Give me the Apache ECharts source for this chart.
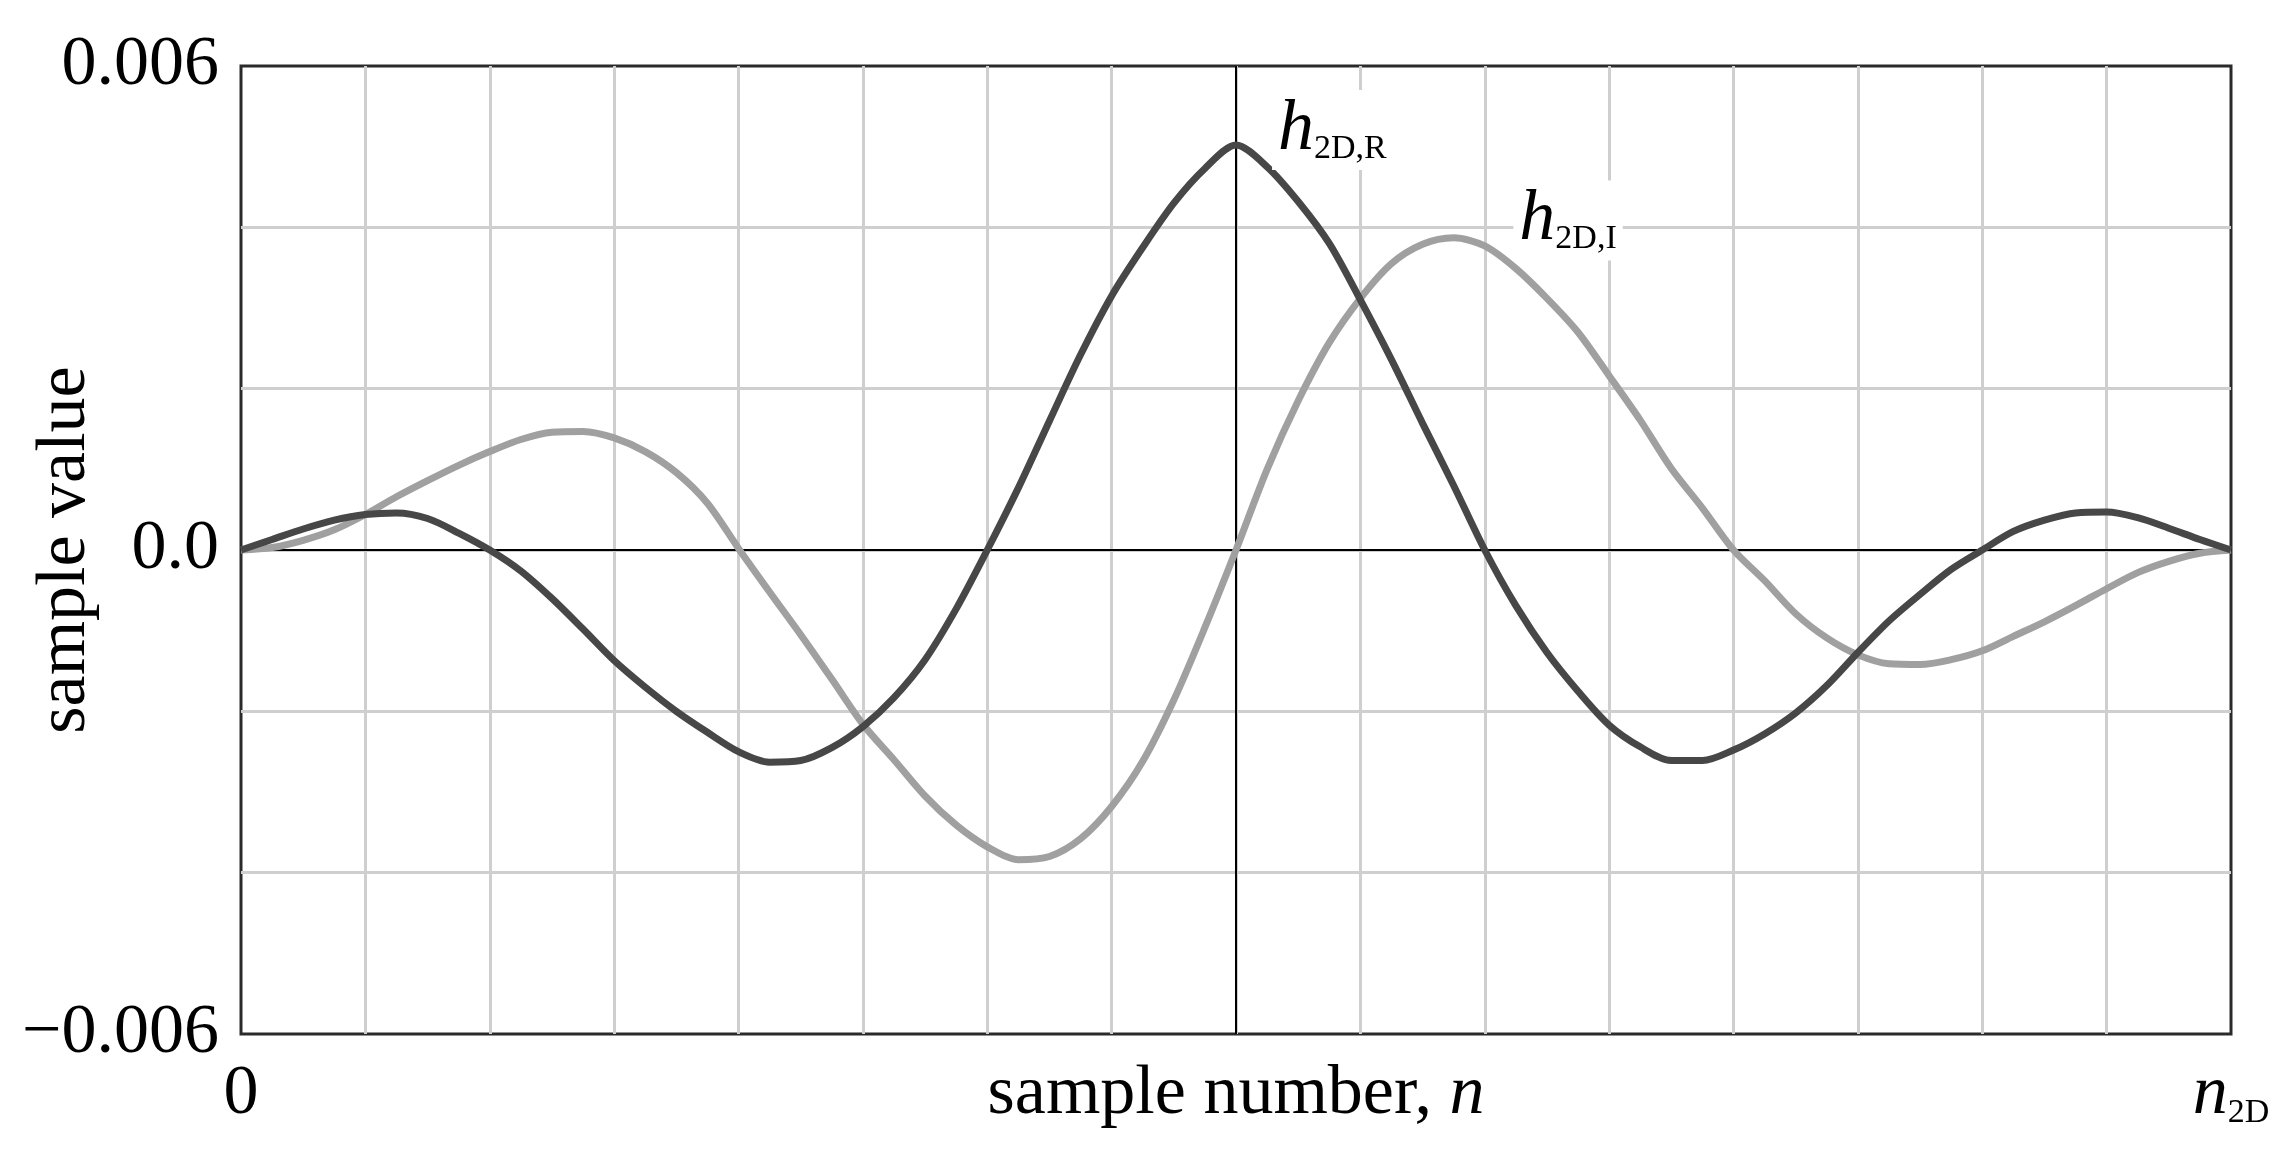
<!DOCTYPE html>
<html>
<head>
<meta charset="utf-8">
<script src="https://cdn.jsdelivr.net/npm/echarts@6/dist/echarts.min.js"></script>
<style>
html, body { margin: 0; padding: 0; background: #fff; }
#chart { width: 2291px; height: 1155px; }
</style>
</head>
<body>
<div id="chart"></div>
<script>
// sample positions, in grid units (0 .. n2D = 16), read every quarter cell
const sampleX = [0, 0.25, 0.5, 0.75, 1, 1.25, 1.5, 1.75, 2, 2.25, 2.5, 2.75, 3, 3.25, 3.5, 3.75,
                 4, 4.25, 4.5, 4.75, 5, 5.25, 5.5, 5.75, 6, 6.25, 6.5, 6.75, 7, 7.25, 7.5, 7.75,
                 8, 8.25, 8.5, 8.75, 9, 9.25, 9.5, 9.75, 10, 10.25, 10.5, 10.75, 11, 11.25, 11.5, 11.75,
                 12, 12.25, 12.5, 12.75, 13, 13.25, 13.5, 13.75, 14, 14.25, 14.5, 14.75, 15, 15.25, 15.5, 15.75, 16]

const hReal = [0, 0.00013, 0.00026, 0.00037, 0.00044, 0.00046, 0.00039, 0.00021,
               0, -0.00026, -0.00060, -0.00098, -0.00137, -0.00170, -0.00200, -0.00226,
               -0.00250, -0.00263, -0.00261, -0.00245, -0.00219, -0.00183, -0.00136, -0.00073,
               0, 0.00077, 0.00160, 0.00242, 0.00315, 0.00375, 0.00430, 0.00473,
               0.00502, 0.00475, 0.00432, 0.00380, 0.00310, 0.00236, 0.00157, 0.00080,
               0, -0.00069, -0.00127, -0.00175, -0.00217, -0.00244, -0.00261, -0.00261,
               -0.00248, -0.00228, -0.00202, -0.00168, -0.00127, -0.00088, -0.00055, -0.00024,
               0, 0.00023, 0.00037, 0.00046, 0.00047, 0.00040, 0.00027, 0.00013, 0]

const hImag = [0, 0.00003, 0.00012, 0.00025, 0.00044, 0.00066, 0.00086, 0.00105,
               0.00122, 0.00137, 0.00146, 0.00147, 0.00139, 0.00122, 0.00096, 0.00058,
               0.00002, -0.00052, -0.00105, -0.00160, -0.00216, -0.00260, -0.00305, -0.00341,
               -0.00368, -0.00384, -0.00380, -0.00358, -0.00318, -0.00262, -0.00186, -0.00096,
               0, 0.00100, 0.00185, 0.00257, 0.00312, 0.00355, 0.00379, 0.00387,
               0.00377, 0.00349, 0.00312, 0.00270, 0.00216, 0.00161, 0.00101, 0.00052,
               0, -0.00038, -0.00079, -0.00109, -0.00130, -0.00141, -0.00142, -0.00136,
               -0.00125, -0.00107, -0.00089, -0.00069, -0.00048, -0.00028, -0.00014, -0.00004, 0]

const yTicks = [-0.006, 0, 0.006]
const yTickText = ['\u22120.006', '0.0', '0.006']

const serif = "'Liberation Serif', 'Times New Roman', serif"

const chart = echarts.init(document.getElementById('chart'))

const labelRich = {
    h: { fontFamily: serif, fontStyle: 'italic', fontSize: 72, lineHeight: 72, verticalAlign: 'bottom', color: '#000' },
    s: { fontFamily: serif, fontSize: 34, lineHeight: 26, verticalAlign: 'bottom', color: '#000' }
}

chart.setOption({
    animation: false,
    backgroundColor: '#fff',
    textStyle: { fontFamily: serif, color: '#000' },
    grid: {
        left: 241,
        right: 60,
        top: 66,
        bottom: 121,
        outerBoundsMode: 'none',
        containLabel: false,
        show: true,
        borderColor: '#2a2a2a',
        borderWidth: 3,
        backgroundColor: 'transparent'
    },
    xAxis: {
        type: 'value',
        min: 0,
        max: 16,
        interval: 1,
        axisLine: { show: false },
        axisTick: { show: false },
        splitLine: { showMinLine: false, showMaxLine: false, lineStyle: { color: '#cfcfcf', width: 3 } },
        axisLabel: {
            margin: 26,
            fontFamily: serif,
            fontSize: 70,
            color: '#000',
            showMinLabel: true,
            showMaxLabel: true,
            hideOverlap: false,
            formatter: v => v === 0 ? '0' : (v === 16 ? '{n|n}{s|2D}' : ''),
            rich: {
                n: { fontFamily: serif, fontStyle: 'italic', fontSize: 70, lineHeight: 70, verticalAlign: 'bottom' },
                s: { fontFamily: serif, fontSize: 34, lineHeight: 26, verticalAlign: 'bottom' }
            }
        },
        name: '{t|sample number, }{n|n}',
        nameLocation: 'middle',
        nameGap: 26,
        nameMoveOverlap: false,
        nameTextStyle: {
            rich: {
                t: { fontFamily: serif, fontSize: 70, color: '#000' },
                n: { fontFamily: serif, fontSize: 70, fontStyle: 'italic', color: '#000' }
            }
        }
    },
    yAxis: {
        type: 'value',
        min: -0.006,
        max: 0.006,
        interval: 0.002,
        axisLine: { show: false },
        axisTick: { show: false },
        splitLine: { showMinLine: false, showMaxLine: false, lineStyle: { color: '#cfcfcf', width: 3 } },
        axisLabel: {
            margin: 22,
            fontFamily: serif,
            fontSize: 70,
            color: '#000',
            formatter: v => {
                for (let i = 0; i < yTicks.length; i++) {
                    if (Math.abs(v - yTicks[i]) < 1e-9) return yTickText[i]
                }
                return ''
            }
        },
        name: 'sample value',
        nameLocation: 'middle',
        nameGap: 140,
        nameMoveOverlap: false,
        nameTextStyle: { fontFamily: serif, fontSize: 70, color: '#000' }
    },
    series: [
        {
            // zero line and centre line
            type: 'line',
            data: [[0, 0]],
            showSymbol: false,
            z: 1,
            silent: true,
            markLine: {
                z: 1,
                silent: true,
                symbol: ['none', 'none'],
                label: { show: false },
                lineStyle: { color: '#000', width: 2, type: 'solid' },
                data: [{ yAxis: 0 }, { xAxis: 8 }]
            }
        },
        {
            name: 'h2D,I',
            type: 'line',
            smooth: 0.3,
            showSymbol: false,
            z: 2,
            data: sampleX.map((x, i) => [x, hImag[i]]),
            lineStyle: { color: '#a0a0a0', width: 7 },
            markPoint: {
                symbol: 'circle',
                symbolSize: 0,
                data: [{ coord: [10.23, 0.00359] }],
                label: {
                    show: true,
                    position: 'inside',
                    align: 'left',
                    verticalAlign: 'bottom',
                    backgroundColor: '#fff',
                    padding: [4, 6, 4, 6],
                    formatter: '{h|h}{s|2D,I}',
                    rich: labelRich
                }
            }
        },
        {
            name: 'h2D,R',
            type: 'line',
            smooth: 0.3,
            showSymbol: false,
            z: 3,
            data: sampleX.map((x, i) => [x, hReal[i]]),
            lineStyle: { color: '#474747', width: 7 },
            markPoint: {
                symbol: 'circle',
                symbolSize: 0,
                data: [{ coord: [8.29, 0.00471] }],
                label: {
                    show: true,
                    position: 'inside',
                    align: 'left',
                    verticalAlign: 'bottom',
                    backgroundColor: '#fff',
                    padding: [4, 6, 4, 6],
                    formatter: '{h|h}{s|2D,R}',
                    rich: labelRich
                }
            }
        }
    ]
})
</script>
</body>
</html>
